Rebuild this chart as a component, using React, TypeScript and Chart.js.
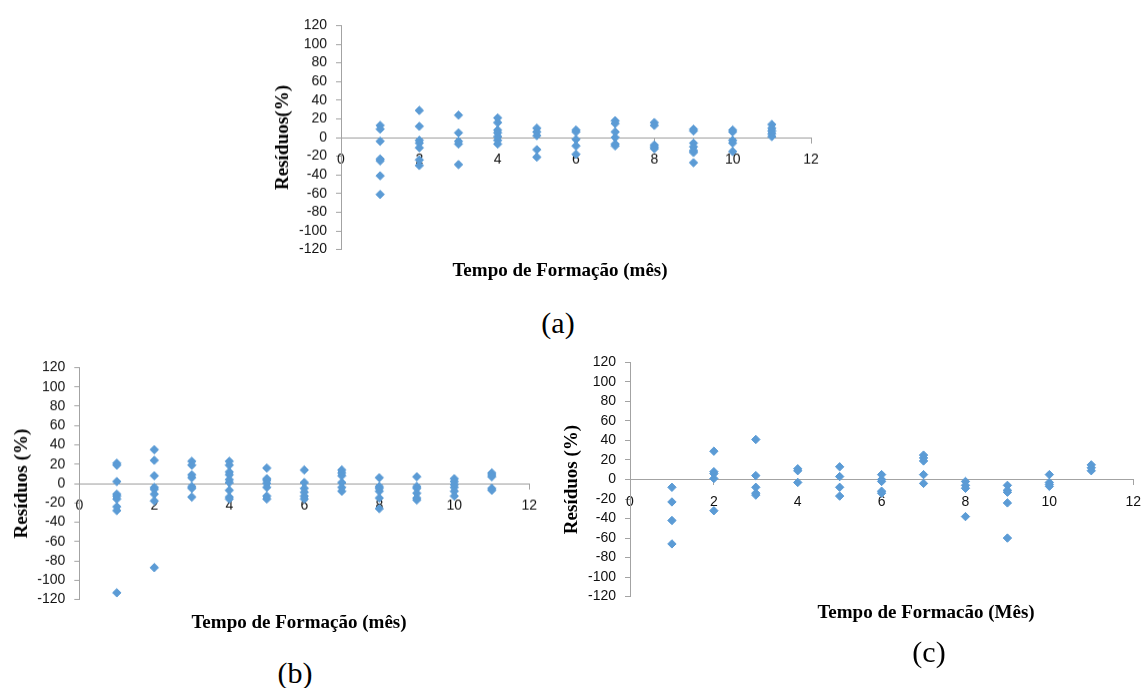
import React, { useEffect, useRef } from "react";
import { Chart, registerables } from "chart.js";

Chart.register(...registerables);

// Month (x) of each group of residuals
const months = [1, 2, 3, 4, 5, 6, 7, 8, 9, 10, 11];

// Residuals (%) for each month, panel (a)
const residuosA = [
  [13, 9, -4, -23, -25, -41, -61],
  [29, 12, -3, -6, -11, -24, -30],
  [24, 5, -4, -7, -29],
  [21, 16, 8, 5, 1, -3, -7],
  [10, 6, 2, -13, -21],
  [8, 6, -2, -9, -18],
  [18, 15, 6, 0, -7, -9],
  [16, 13, -8, -10, -12],
  [9, 7, -6, -10, -14, -16, -27],
  [8, 6, -3, -6, -15],
  [14, 10, 7, 4, 1],
];

// Residuals (%) for each month, panel (b)
const residuosB = [
  [21, 19, 2, -11, -13, -16, -24, -28, -113],
  [35, 24, 8, -4, -6, -11, -18, -87],
  [23, 19, 9, 6, -3, -5, -14],
  [23, 19, 12, 9, 4, 1, -7, -14, -16],
  [16, 5, 3, 0, -4, -13, -16],
  [14, 1, -5, -9, -13, -16],
  [14, 11, 8, 1, -4, -8],
  [6, -3, -5, -8, -15, -26],
  [7, -3, -5, -10, -15, -17],
  [5, 2, -1, -4, -8, -13],
  [11, 9, 7, -5, -7],
];

// Residuals (%) for each month, panel (c)
const residuosC = [
  [-8, -23, -42, -66],
  [29, 8, 6, 1, -32],
  [41, 4, -8, -14, -16],
  [11, 9, -3],
  [13, 3, -8, -17],
  [5, 0, -2, -12, -14],
  [25, 22, 19, 5, -4],
  [-2, -6, -9, -38],
  [-6, -11, -13, -24, -60],
  [5, -3, -5, -7],
  [15, 12, 9],
];

// Axis ranges / tick steps
const xRange = [0, 12];
const xStep = 2;
const yRange = [-120, 120];
const yStep = 20;

const yTitles = ["Resíduos(%)", "Resíduos (%)", "Resíduos (%)"];
const xTitles = [
  "Tempo de Formação (mês)",
  "Tempo de Formação (mês)",
  "Tempo de Formacão (Mês)",
];
const captions = ["(a)", "(b)", "(c)"];

const AXIS_COLOR = "#a3a3a3";
const POINT_COLOR = "#5b9bd5";
const SERIF = "'Liberation Serif', 'Times New Roman', serif";
const SANS = "'Liberation Sans', Arial, sans-serif";

type Geo = {
  left: number;
  top: number;
  width: number;
  height: number;
  pad: { left: number; right: number; top: number; bottom: number };
  yAxisWidth: number;
  titlePad: number;
};

const geos: Geo[] = [
  { left: 250, top: 8, width: 585, height: 258.5, pad: { left: 0, right: 24, top: 15.5, bottom: 10.5 }, yAxisWidth: 91, titlePad: 21.6 },
  { left: 0, top: 350, width: 550, height: 266.5, pad: { left: 0, right: 20.7, top: 16.5, bottom: 10.5 }, yAxisWidth: 79.3, titlePad: 10.6 },
  { left: 545, top: 345, width: 605, height: 269, pad: { left: 0, right: 11, top: 16.5, bottom: 10 }, yAxisWidth: 85, titlePad: 15.6 },
];

const textPos = [
  { xt: [560, 270], cap: [558, 323] },
  { xt: [299, 622], cap: [295, 673] },
  { xt: [926, 612], cap: [929, 652] },
];

function toPoints(groups: number[][]) {
  const pts: { x: number; y: number }[] = [];
  groups.forEach((vals, i) => {
    vals.forEach((v) => pts.push({ x: months[i], y: v }));
  });
  return pts;
}

function Panel({ groups, yTitle, geo }: { groups: number[][]; yTitle: string; geo: Geo }) {
  const ref = useRef<HTMLCanvasElement | null>(null);
  useEffect(() => {
    if (!ref.current) return;
    const chart = new Chart(ref.current, {
      type: "scatter",
      data: {
        datasets: [
          {
            data: toPoints(groups),
            pointStyle: "rectRot",
            pointRadius: 4.2,
            pointHoverRadius: 4.2,
            backgroundColor: POINT_COLOR,
            borderColor: POINT_COLOR,
            borderWidth: 1,
          },
        ],
      },
      options: {
        responsive: false,
        animation: false,
        events: [],
        layout: { padding: geo.pad },
        plugins: { legend: { display: false }, tooltip: { enabled: false }, title: { display: false } },
        scales: {
          x: {
            type: "linear",
            position: { y: 0 } as any,
            min: xRange[0],
            max: xRange[1],
            ticks: { stepSize: xStep, autoSkip: false, maxRotation: 0, padding: 9, color: "#111", font: { family: SANS, size: 14 } },
            grid: { display: true, drawOnChartArea: false, drawTicks: true, tickLength: 5, color: AXIS_COLOR },
            border: { display: true, color: AXIS_COLOR, width: 1 },
          },
          y: {
            type: "linear",
            position: "left",
            min: yRange[0],
            max: yRange[1],
            afterFit: (s: any) => {
              s.width = geo.yAxisWidth;
            },
            ticks: { stepSize: yStep, autoSkip: false, padding: 9, color: "#111", font: { family: SANS, size: 14 } },
            grid: { display: true, drawOnChartArea: false, drawTicks: true, tickLength: 5, color: AXIS_COLOR },
            border: { display: true, color: AXIS_COLOR, width: 1 },
            title: {
              display: true,
              text: yTitle,
              color: "#000",
              padding: { top: geo.titlePad, bottom: 0 },
              font: { family: SERIF, size: 19, weight: "bold" },
            },
          },
        },
      },
    });
    return () => chart.destroy();
  }, [groups, yTitle, geo]);
  return (
    <canvas
      ref={ref}
      width={geo.width}
      height={geo.height}
      style={{ position: "absolute", left: geo.left, top: geo.top, width: geo.width, height: geo.height }}
    />
  );
}

const allGroups = [residuosA, residuosB, residuosC];

export default function App() {
  return (
    <div style={{ position: "absolute", left: 0, top: 0, width: 1145, height: 688, background: "#fff", overflow: "hidden" }}>
      {allGroups.map((g, i) => (
        <Panel key={i} groups={g} yTitle={yTitles[i]} geo={geos[i]} />
      ))}
      {textPos.map((p, i) => (
        <React.Fragment key={"t" + i}>
          <div
            style={{
              position: "absolute",
              left: p.xt[0],
              top: p.xt[1],
              transform: "translate(-50%, -50%)",
              whiteSpace: "nowrap",
              fontFamily: SERIF,
              fontWeight: "bold",
              fontSize: 19,
              color: "#000",
            }}
          >
            {xTitles[i]}
          </div>
          <div
            style={{
              position: "absolute",
              left: p.cap[0],
              top: p.cap[1],
              transform: "translate(-50%, -50%)",
              whiteSpace: "nowrap",
              fontFamily: SERIF,
              fontSize: 30,
              color: "#000",
            }}
          >
            {captions[i]}
          </div>
        </React.Fragment>
      ))}
    </div>
  );
}
